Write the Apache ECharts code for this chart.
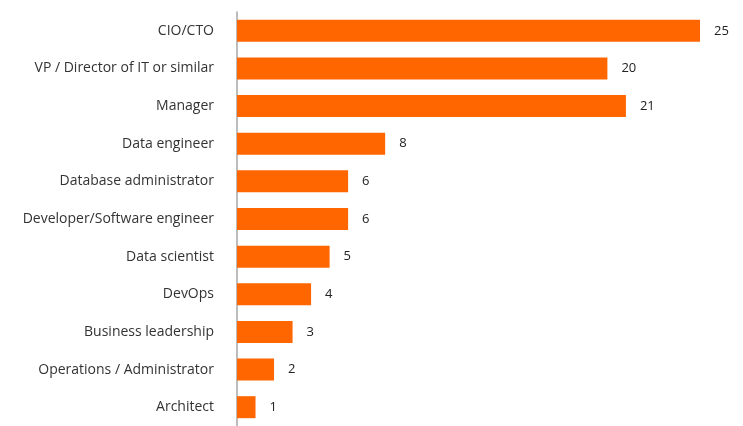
<!DOCTYPE html>
<html>
<head>
<meta charset="utf-8">
<style>
  html, body { margin: 0; padding: 0; background: #fff; }
  #chart { width: 743px; height: 426px; }
</style>
<script src="https://cdn.jsdelivr.net/npm/echarts@6/dist/echarts.min.js"></script>
</head>
<body>
<div id="chart"></div>
<script>
// Respondent roles, listed top to bottom
const roles = [
  'CIO/CTO',
  'VP / Director of IT or similar',
  'Manager',
  'Data engineer',
  'Database administrator',
  'Developer/Software engineer',
  'Data scientist',
  'DevOps',
  'Business leadership',
  'Operations / Administrator',
  'Architect'
];
const counts = [25, 20, 21, 8, 6, 6, 5, 4, 3, 2, 1];

const chart = echarts.init(document.getElementById('chart'));
chart.setOption({
  animation: false,
  grid: { left: 237, right: 43, top: 12, bottom: -2, containLabel: false },
  xAxis: {
    type: 'value',
    min: 0,
    max: 25,
    show: false
  },
  yAxis: {
    type: 'category',
    data: roles,
    inverse: true,
    axisLine: { show: true, lineStyle: { color: '#a6a6a6', width: 1.5 } },
    axisTick: { show: false },
    axisLabel: {
      margin: 23,
      color: '#333333',
      fontFamily: 'Open Sans',
      fontSize: 14,
      padding: [0, 0, 5, 0]
    }
  },
  series: [{
    type: 'bar',
    data: counts,
    barWidth: 22,
    itemStyle: { color: '#FF6600' },
    label: {
      show: true,
      position: 'right',
      distance: 14,
      color: '#222222',
      fontFamily: 'Open Sans',
      fontSize: 13
    }
  }]
});
</script>
</body>
</html>
